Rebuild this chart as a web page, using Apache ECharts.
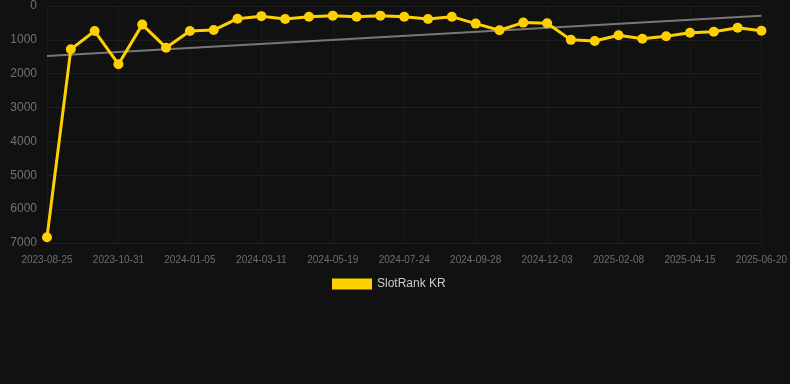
<!DOCTYPE html>
<html><head><meta charset="utf-8">
<script src="https://cdn.jsdelivr.net/npm/echarts@6/dist/echarts.min.js"></script>
<style>html,body{margin:0;padding:0;background:#111111;}#c{width:790px;height:384px;}</style>
</head><body><div id="c"></div>
<script>
const categories = ['2023-08-25','2023-09-16','2023-10-09','2023-10-31','2023-11-22','2023-12-14','2024-01-05','2024-01-27','2024-02-18','2024-03-11','2024-04-03','2024-04-26','2024-05-19','2024-06-10','2024-07-02','2024-07-24','2024-08-15','2024-09-06','2024-09-28','2024-10-20','2024-11-11','2024-12-03','2024-12-25','2025-01-17','2025-02-08','2025-03-02','2025-03-24','2025-04-15','2025-05-07','2025-05-29','2025-06-20'];
const rankValues = [6830,1280,740,1720,550,1230,740,710,375,300,385,315,285,315,285,315,385,315,520,715,490,510,1000,1035,865,965,895,790,760,640,730];
const trendValues = [1480,null,null,null,null,null,null,null,null,null,null,null,null,null,null,null,null,null,null,null,null,null,null,null,null,null,null,null,null,null,290];
const yTicks = [0,1000,2000,3000,4000,5000,6000,7000];

const chart = echarts.init(document.getElementById('c'), null, {renderer:'canvas'});
chart.setOption({
  backgroundColor:'#111111',
  animation:false,
  grid:{left:47,right:28,top:6,bottom:141},
  legend:{
    data:[{name:'SlotRank KR',icon:'rect'}],
    top:273,left:327,itemWidth:40,itemHeight:11,itemGap:10,
    textStyle:{color:'#cccccc',fontSize:12,fontFamily:'Arial, Liberation Sans, sans-serif'}
  },
  xAxis:{
    type:'category',data:categories,boundaryGap:false,
    axisLine:{show:false},axisTick:{show:false},
    axisLabel:{interval:2,color:'#6e6e6e',fontSize:10,margin:12,fontFamily:'Arial, Liberation Sans, sans-serif'},
    splitLine:{show:true,interval:2,lineStyle:{color:'#191919',width:1}}
  },
  yAxis:{
    type:'value',inverse:true,min:yTicks[0],max:yTicks[yTicks.length-1],interval:1000,
    axisLine:{show:false},axisTick:{show:false},
    axisLabel:{color:'#727272',fontSize:12,margin:10,formatter:function(v){return String(v);},fontFamily:'Arial, Liberation Sans, sans-serif'},
    splitLine:{lineStyle:{color:'#1f1f1f',width:1}}
  },
  series:[
    {name:'Trend',type:'line',data:trendValues,connectNulls:true,showSymbol:false,symbol:'none',
     lineStyle:{color:'#777777',width:2},itemStyle:{color:'#777777'},z:1,silent:true},
    {name:'SlotRank KR',type:'line',data:rankValues,symbol:'circle',symbolSize:10,
     lineStyle:{color:'#FFD000',width:3},itemStyle:{color:'#FFD000'},z:2}
  ]
});
</script></body></html>
